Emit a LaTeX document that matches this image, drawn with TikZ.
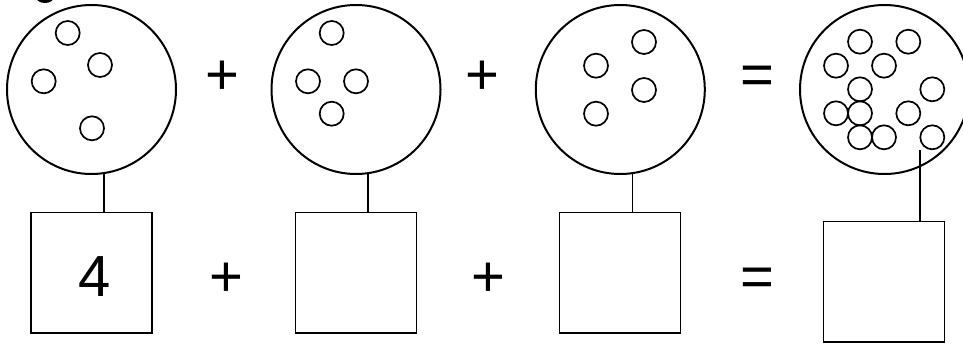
\documentclass[tikz,border=0pt]{standalone}
\usepackage{fontspec}
\setmainfont{Liberation Sans}
\begin{document}
\begin{tikzpicture}[x=1pt,y=-1pt,
  bigcirc/.style={draw,circle,line width=2pt,inner sep=0pt,minimum size=169pt},
  dot/.style={line width=1.7pt},
  answerbox/.style={draw,rectangle,line width=1.5pt,inner sep=0pt,minimum width=121pt,minimum height=120.5pt},
  op/.style={anchor=base,inner sep=0pt,font=\fontsize{58}{60}\selectfont},
  link/.style={line width=1.6pt}]
\clip (0,0) rectangle (963,343);
\fill[white] (0,0) rectangle (963,343);
% partial blob at top
\fill[black] (45,-3) ellipse (9 and 6);
% big circles
\node[bigcirc] (c1) at (91.5,89.5) {};
\node[bigcirc] (c2) at (356,89.5) {};
\node[bigcirc] (c3) at (620.3,89.5) {};
\node[bigcirc] (c4) at (884.5,89.5) {};
% small circles
\foreach \p in {(67.7,33),(100,65),(43.7,81.3),(92,128.3)} \draw[dot] \p circle (12);
\foreach \p in {(331.7,33),(308,81.3),(356,81.3),(331.7,113.7)} \draw[dot] \p circle (12);
\foreach \p in {(644,42),(596,65.7),(644,90),(596,113.7)} \draw[dot] \p circle (12);
\foreach \p in {(860,41.7),(908.3,41.7),(836,65.7),(884,65.7),(860,89.3),(932.3,89.3),
  (836,113.3),(860,113.3),(908.3,113.3),(860,137.3),(884,137.3),(932.3,137.3)} \draw[dot] \p circle (12);
% operators row 1
\node[op] (p1) at (222.8,94) {+};
\node[op] (p2) at (482.3,94) {+};
\node[op] (e1) at (757.8,94.5) {=};
% boxes
\node[answerbox] (b1) at (91.5,272.7) {};
\node[answerbox] (b2) at (355.9,272.7) {};
\node[answerbox] (b3) at (620,272.7) {};
\node[answerbox] (b4) at (884,281.7) {};
\node[op] (n1) at (94.7,296) {4};
% operators row 2
\node[op] (p3) at (226,296) {+};
\node[op] (p4) at (488.2,296) {+};
\node[op] (e2) at (757.8,296.5) {=};
% connectors
\coordinate (t1) at (104,173.1);
\coordinate (t2) at (368,173.1);
\coordinate (t3) at (632.3,173.1);
\coordinate (t4) at (920,150);
\draw[link] (t1) -- (t1 |- b1.north);
\draw[link] (t2) -- (t2 |- b2.north);
\draw[link] (t3) -- (t3 |- b3.north);
\draw[link] (t4) -- (t4 |- b4.north);
\end{tikzpicture}
\end{document}
